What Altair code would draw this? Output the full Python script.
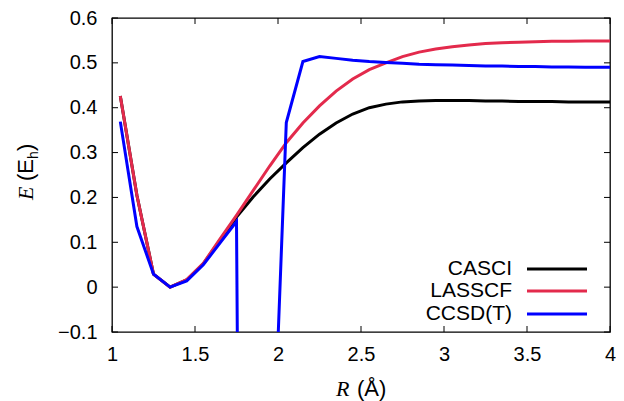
import altair as alt
import pandas as pd

# ---- data ----
R = [1.05, 1.15, 1.25, 1.35, 1.45, 1.55, 1.65, 1.75, 1.85, 1.95,
     2.05, 2.15, 2.25, 2.35, 2.45, 2.55, 2.65, 2.75, 2.85, 2.95,
     3.05, 3.15, 3.25, 3.35, 3.45, 3.55, 3.65, 3.75, 3.85, 3.95, 4.05]
casci = [0.426, 0.205, 0.029, 0.000, 0.016, 0.052, 0.104, 0.156, 0.201, 0.241,
         0.277, 0.311, 0.341, 0.366, 0.386, 0.400, 0.408, 0.413, 0.415, 0.416,
         0.416, 0.416, 0.415, 0.415, 0.414, 0.414, 0.414, 0.413, 0.413, 0.413, 0.413]
lasscf = [0.426, 0.205, 0.029, 0.000, 0.017, 0.053, 0.107, 0.160, 0.215, 0.270,
          0.322, 0.366, 0.404, 0.437, 0.464, 0.485, 0.500, 0.514, 0.524, 0.531,
          0.536, 0.540, 0.543, 0.545, 0.546, 0.547, 0.548, 0.548, 0.549, 0.549, 0.549]
ccsdt = [0.369, 0.135, 0.029, 0.000, 0.014, 0.050, 0.098, 0.146, -5.0, -0.6,
         0.367, 0.503, 0.514, 0.510, 0.506, 0.503, 0.501, 0.499, 0.497, 0.496,
         0.495, 0.494, 0.493, 0.493, 0.492, 0.492, 0.491, 0.491, 0.490, 0.490, 0.490]

series_keys = ["casci", "lasscf", "ccsdt"]
series_names = ["CASCI", "LASSCF", "CCSD(T)"]
series_colors = ["#000000", "#e32a4c", "#0000ff"]

x_ticks = [1, 1.5, 2, 2.5, 3, 3.5, 4]
y_ticks = [-0.1, 0, 0.1, 0.2, 0.3, 0.4, 0.5, 0.6]

# ---- layout ----
W, H = 498, 314
TICK = 6
FONT = "Liberation Sans"
SERIF = "Liberation Serif"

df = pd.DataFrame({"R": R, "casci": casci, "lasscf": lasscf, "ccsdt": ccsdt})
xt = pd.DataFrame({"t": x_ticks})
yt = pd.DataFrame({"t": y_ticks})

xscale = alt.Scale(domain=[1, 4], nice=False, zero=False)
yscale = alt.Scale(domain=[-0.1, 0.6], nice=False, zero=False)

xaxis = alt.Axis(values=x_ticks, format="~g", title=None, grid=False, domain=False,
                 ticks=False, tickSize=0, labelFont=FONT, labelFontSize=20,
                 labelColor="black", labelPadding=12, labelFlush=False, labelOverlap=False)
yaxis = alt.Axis(values=y_ticks, format="~g", title=None, grid=False, domain=False,
                 ticks=False, tickSize=0, labelFont=FONT, labelFontSize=20,
                 labelColor="black", labelPadding=15, labelFlush=False, labelOverlap=False)

layers = []

# tick marks (inside, mirrored on all four sides)
layers.append(alt.Chart(xt).mark_rule(color="black", strokeWidth=1).encode(
    x=alt.X("t:Q", scale=xscale, axis=xaxis), y=alt.value(H), y2=alt.value(H - TICK)))
layers.append(alt.Chart(xt).mark_rule(color="black", strokeWidth=1).encode(
    x=alt.X("t:Q", scale=xscale, axis=xaxis), y=alt.value(0), y2=alt.value(TICK)))
layers.append(alt.Chart(yt).mark_rule(color="black", strokeWidth=1).encode(
    y=alt.Y("t:Q", scale=yscale, axis=yaxis), x=alt.value(0), x2=alt.value(TICK)))
layers.append(alt.Chart(yt).mark_rule(color="black", strokeWidth=1).encode(
    y=alt.Y("t:Q", scale=yscale, axis=yaxis), x=alt.value(W), x2=alt.value(W - TICK)))

# data lines
for key, color in zip(series_keys, series_colors):
    layers.append(alt.Chart(df).mark_line(clip=True, color=color, strokeWidth=3).encode(
        x=alt.X("R:Q", scale=xscale, axis=xaxis),
        y=alt.Y(f"{key}:Q", scale=yscale, axis=yaxis)))

# legend (gnuplot style: label right-aligned, line sample to the right)
row_y = [251, 273, 296]
for name, color, ry in zip(series_names, series_colors, row_y):
    layers.append(alt.Chart(pd.DataFrame({"label": [name]})).mark_text(
        align="right", baseline="middle", font=FONT, fontSize=21, color="black").encode(
        text="label:N", x=alt.value(400), y=alt.value(ry)))
    layers.append(alt.Chart(pd.DataFrame({"label": [name]})).mark_rule(
        color=color, strokeWidth=3).encode(
        x=alt.value(415), x2=alt.value(475), y=alt.value(ry)))

# axis titles built from pieces (italic serif symbol + sans unit)
def txt(s, x, y, font, size, style="normal", angle=0):
    return alt.Chart(pd.DataFrame({"s": [s]})).mark_text(
        align="left", baseline="alphabetic", font=font, fontSize=size,
        fontStyle=style, angle=angle, color="black").encode(
        text="s:N", x=alt.value(x), y=alt.value(y))

# x title: R (Å)
layers.append(txt("R", 224, 378, SERIF, 22, "italic"))
layers.append(txt("(Å)", 245, 378, FONT, 22))
# y title: E (E_h), rotated
yx = -79
layers.append(txt("E", yx, 182, SERIF, 22, "italic", 270))
layers.append(txt("(E", yx, 163, FONT, 22, "normal", 270))
layers.append(txt("h", yx + 5, 141, FONT, 14, "normal", 270))
layers.append(txt(")", yx, 133, FONT, 22, "normal", 270))

chart = alt.layer(*layers).properties(
    width=W, height=H,
    autosize=alt.AutoSizeParams(type="none"),
    padding={"left": 104, "top": 10, "right": 6, "bottom": 69},
).configure_view(stroke="black", strokeWidth=1.3)

chart.save("out.html", embed_options={"renderer": "svg", "actions": False})
